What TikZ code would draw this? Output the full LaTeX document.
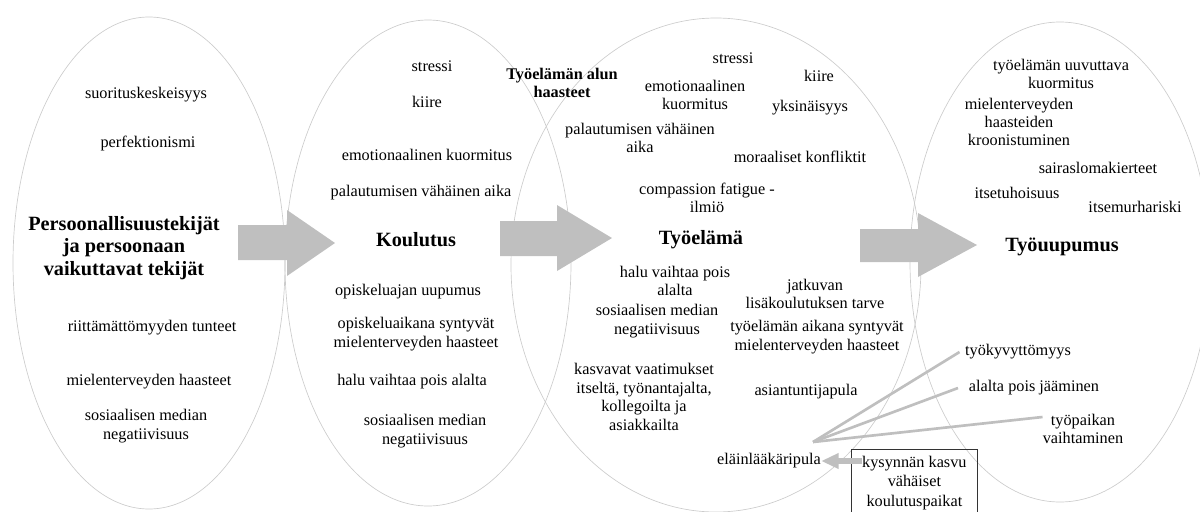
\documentclass[tikz,border=0pt]{standalone}
\usepackage{fontspec}
\setmainfont{Liberation Serif}
\usetikzlibrary{arrows.meta}
\tikzset{
  ring/.style={draw=gray!40, line width=0.5pt},
  bigarrow/.style={fill=gray!50},
  lbl/.style={font=\fontsize{12.2}{13.8}\selectfont, align=center, inner sep=0pt},
  ttl/.style={font=\fontsize{15.2}{17}\selectfont\bfseries, align=center, inner sep=0pt},
  spoke/.style={draw=gray!50, line width=2pt},
  demand/.style={draw=gray!50, line width=5pt, -{Triangle[length=13pt,width=11pt]}},
  reasonbox/.style={draw=black!80, line width=0.6pt, align=center,
    font=\fontsize{12.2}{14.6}\selectfont, inner xsep=7pt, inner ysep=5pt,
    minimum width=94.5pt}
}
\begin{document}
\begin{tikzpicture}[x=0.75pt, y=-0.75pt]
      \useasboundingbox (0,0) rectangle (1200,511);
      % the four stages
      \draw[ring] (149,263) ellipse [x radius=136, y radius=246];
      \draw[ring] (428,263) ellipse [x radius=143, y radius=243];
      \draw[ring] (716,265) ellipse [x radius=205, y radius=247];
      \draw[ring] (1060,262) ellipse [x radius=150, y radius=240];
      % block arrows between stages
      \fill[bigarrow] (238,225) -- (287,225) -- (287,210) -- (335,243)
        -- (287,276) -- (287,260) -- (238,260) -- cycle;
      \fill[bigarrow] (500,221) -- (557,221) -- (557,205) -- (612,238)
        -- (557,271) -- (557,256) -- (500,256) -- cycle;
      \fill[bigarrow] (860,229) -- (918,229) -- (918,213) -- (977,245)
        -- (918,277) -- (918,262) -- (860,262) -- cycle;
      % persoona
      \node[lbl] (p1) at (146,95) {suorituskeskeisyys};
      \node[lbl] (p2) at (148,144) {perfektionismi};
      \node[ttl] (pt) at (124,248) {Persoonallisuustekijät\\ja persoonaan\\vaikuttavat tekijät};
      \node[lbl] (p3) at (152,328) {riittämättömyyden tunteet};
      \node[lbl] (p4) at (149,382) {mielenterveyden haasteet};
      \node[lbl] (p5) at (146,426) {sosiaalisen median\\negatiivisuus};
      % koulutus
      \node[lbl] (k1) at (432,66) {stressi};
      \node[lbl] (k2) at (427,102) {kiire};
      \node[lbl] (k3) at (427,155) {emotionaalinen kuormitus};
      \node[lbl] (k4) at (421,193) {palautumisen vähäinen aika};
      \node[ttl] (kt) at (416,240) {Koulutus};
      \node[lbl] (k5) at (408,292) {opiskeluajan uupumus};
      \node[lbl] (k6) at (416,334) {opiskeluaikana syntyvät\\mielenterveyden haasteet};
      \node[lbl] (k7) at (412,382) {halu vaihtaa pois alalta};
      \node[lbl] (k8) at (425,431) {sosiaalisen median\\negatiivisuus};
      % tyoelama
      \node[lbl, font=\fontsize{12.2}{13.8}\selectfont\bfseries] (ta) at (562,83) {Työelämän alun\\haasteet};
      \node[lbl] (t1) at (733,58) {stressi};
      \node[lbl] (t2) at (819,76) {kiire};
      \node[lbl] (t3) at (695,95) {emotionaalinen\\kuormitus};
      \node[lbl] (t4) at (810,108) {yksinäisyys};
      \node[lbl] (t5) at (640,138) {palautumisen vähäinen\\aika};
      \node[lbl] (t6) at (800,157) {moraaliset konfliktit};
      \node[lbl] (t7) at (707,198) {compassion fatigue -\\ilmiö};
      \node[ttl] (tt) at (701,240) {Työelämä};
      \node[lbl] (t8) at (675,281) {halu vaihtaa pois\\alalta};
      \node[lbl] (t9) at (657,321) {sosiaalisen median\\negatiivisuus};
      \node[lbl] (t10) at (644,397) {kasvavat vaatimukset\\itseltä, työnantajalta,\\kollegoilta ja\\asiakkailta};
      \node[lbl] (t11) at (815,294) {jatkuvan\\lisäkoulutuksen tarve};
      \node[lbl] (t12) at (817,337) {työelämän aikana syntyvät\\mielenterveyden haasteet};
      \node[lbl] (t13) at (806,392) {asiantuntijapula};
      \node[lbl] (t14) at (769,461) {eläinlääkäripula};
      % tyouupumus
      \node[lbl] (u1) at (1061,74) {työelämän uuvuttava\\kuormitus};
      \node[lbl] (u2) at (1019,122) {mielenterveyden\\haasteiden\\kroonistuminen};
      \node[lbl] (u3) at (1098,168) {sairaslomakierteet};
      \node[lbl] (u4) at (1017,193) {itsetuhoisuus};
      \node[lbl] (u5) at (1135,207) {itsemurhariski};
      \node[ttl] (ut) at (1062,247) {Työuupumus};
      % consequences of the shortage
      \node[lbl] (w1) at (1018,352) {työkyvyttömyys};
      \node[lbl] (w2) at (1034,388) {alalta pois jääminen};
      \node[lbl] (w3) at (1083,429) {työpaikan\\vaihtaminen};
      \coordinate (hub) at (813,442);
      \draw[spoke] (hub) -- ([xshift=-4pt]w1.west);
      \draw[spoke] (hub) -- ([xshift=-8pt]w2.west);
      \draw[spoke] (hub) -- ([yshift=9pt]w3.west);
      % causes
      \node[reasonbox, anchor=north west] (box) at (851,449) {kysynnän kasvu\\vähäiset\\koulutuspaikat};
      \coordinate (boxin) at (t14.east -| box.west);
      \draw[demand] ([xshift=8pt]boxin) -- (t14.east);
\end{tikzpicture}
\end{document}
